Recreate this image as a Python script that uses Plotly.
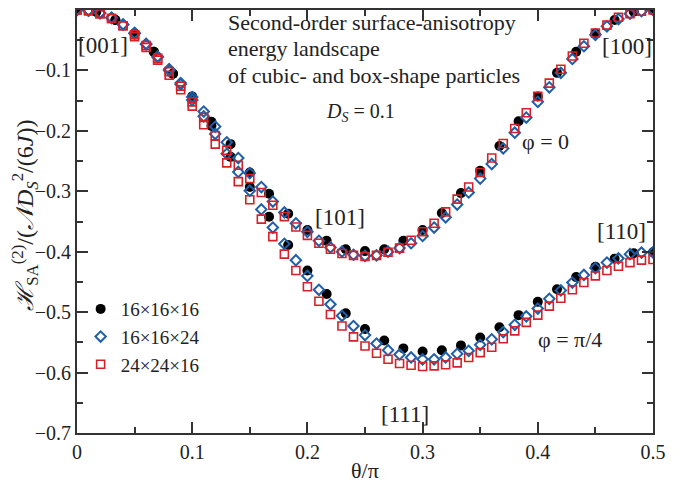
import plotly.graph_objects as go

# theta/pi grids
theta_fine = [0.00, 0.01, 0.02, 0.03, 0.04, 0.05, 0.06, 0.07, 0.08, 0.09,
              0.10, 0.11, 0.12, 0.13, 0.14, 0.15, 0.16, 0.17, 0.18, 0.19,
              0.20, 0.21, 0.22, 0.23, 0.24, 0.25, 0.26, 0.27, 0.28, 0.29,
              0.30, 0.31, 0.32, 0.33, 0.34, 0.35, 0.36, 0.37, 0.38, 0.39,
              0.40, 0.41, 0.42, 0.43, 0.44, 0.45, 0.46, 0.47, 0.48, 0.49, 0.50]
theta_coarse = [0.0, 0.0167, 0.0333, 0.05, 0.0667, 0.0833, 0.1, 0.1167, 0.1333, 0.15,
                0.1667, 0.1833, 0.2, 0.2167, 0.2333, 0.25, 0.2667, 0.2833, 0.3, 0.3167,
                0.3333, 0.35, 0.3667, 0.3833, 0.4, 0.4167, 0.4333, 0.45, 0.4667, 0.4833, 0.5]

# 16x16x16 (coarse grid)
e161616_phi0 = [0.0, -0.003, -0.0165, -0.039, -0.069, -0.105, -0.143, -0.185, -0.222, -0.269,
                -0.304, -0.337, -0.364, -0.382, -0.396, -0.399, -0.396, -0.382, -0.364, -0.336,
                -0.303, -0.266, -0.225, -0.184, -0.143, -0.104, -0.069, -0.039, -0.0165, -0.003, 0.0]
e161616_phi45 = [0.0, -0.003, -0.0165, -0.039, -0.069, -0.106, -0.146, -0.192, -0.243, -0.293,
                 -0.342, -0.389, -0.431, -0.470, -0.502, -0.528, -0.547, -0.560, -0.565, -0.563,
                 -0.555, -0.542, -0.525, -0.505, -0.483, -0.462, -0.442, -0.425, -0.4115, -0.4026, -0.401]

# 16x16x24 (fine grid)
e161624_phi0 = [0.0, -0.001, -0.005, -0.013, -0.024, -0.038, -0.056, -0.077, -0.098, -0.121,
                -0.144, -0.168, -0.193, -0.219, -0.245, -0.270, -0.293, -0.317, -0.335, -0.353,
                -0.367, -0.382, -0.393, -0.400, -0.405, -0.407, -0.406, -0.400, -0.394, -0.386,
                -0.374, -0.360, -0.343, -0.322, -0.302, -0.279, -0.255, -0.229, -0.203, -0.178,
                -0.152, -0.128, -0.104, -0.081, -0.060, -0.041, -0.027, -0.015, -0.006, -0.002, 0.0]
e161624_phi45 = [0.0, -0.001, -0.005, -0.013, -0.024, -0.039, -0.057, -0.078, -0.100, -0.123,
                 -0.149, -0.176, -0.205, -0.238, -0.268, -0.299, -0.330, -0.360, -0.387, -0.414,
                 -0.440, -0.463, -0.487, -0.506, -0.523, -0.538, -0.552, -0.563, -0.570, -0.575,
                 -0.578, -0.578, -0.575, -0.569, -0.564, -0.554, -0.545, -0.533, -0.521, -0.507,
                 -0.494, -0.478, -0.464, -0.451, -0.4385, -0.427, -0.418, -0.411, -0.404, -0.4015, -0.401]

# 24x24x16 (fine grid)
e242416_phi0 = [0.0, -0.001, -0.006, -0.014, -0.026, -0.041, -0.059, -0.080, -0.102, -0.126,
                -0.152, -0.178, -0.208, -0.232, -0.257, -0.279, -0.302, -0.323, -0.342, -0.359,
                -0.373, -0.386, -0.396, -0.403, -0.406, -0.408, -0.406, -0.401, -0.394, -0.381,
                -0.367, -0.353, -0.334, -0.313, -0.293, -0.269, -0.245, -0.221, -0.196, -0.170,
                -0.143, -0.121, -0.098, -0.076, -0.055, -0.038, -0.025, -0.012, -0.006, -0.002, 0.0]
e242416_phi45 = [0.0, -0.001, -0.006, -0.014, -0.026, -0.044, -0.062, -0.083, -0.108, -0.132,
                 -0.159, -0.190, -0.222, -0.253, -0.284, -0.314, -0.346, -0.375, -0.404, -0.431,
                 -0.458, -0.482, -0.504, -0.523, -0.541, -0.556, -0.568, -0.578, -0.585, -0.588,
                 -0.590, -0.589, -0.587, -0.584, -0.575, -0.567, -0.558, -0.544, -0.531, -0.517,
                 -0.505, -0.490, -0.477, -0.463, -0.451, -0.440, -0.431, -0.424, -0.418, -0.414, -0.413]

series_names = ["16×16×16", "16×16×24", "24×24×16"]
title_lines = ["Second-order surface-anisotropy", "energy landscape", "of cubic- and box-shape particles"]
FONT = "Liberation Serif, Times New Roman, serif"
TXT = "#222"
BLUE = "#1f5ea8"
RED = "#d62028"

fig = go.Figure()
fig.add_trace(go.Scatter(
    x=theta_coarse + [None] + theta_coarse,
    y=e161616_phi0 + [None] + e161616_phi45,
    mode="markers", name=series_names[0],
    marker=dict(symbol="circle", size=10, color="black"),
))
fig.add_trace(go.Scatter(
    x=theta_fine + [None] + theta_fine,
    y=e161624_phi0 + [None] + e161624_phi45,
    mode="markers", name=series_names[1],
    marker=dict(symbol="diamond-open", size=8, color=BLUE, line=dict(width=2, color=BLUE)),
))
fig.add_trace(go.Scatter(
    x=theta_fine + [None] + theta_fine,
    y=e242416_phi0 + [None] + e242416_phi45,
    mode="markers", name=series_names[2],
    marker=dict(symbol="square-open", size=8, color=RED, line=dict(width=1.6, color=RED)),
))

annots = [
    (0.0226, -0.058, "[001]", 23),
    (0.477, -0.061, "[100]", 23),
    (0.228, -0.343, "[101]", 23),
    (0.285, -0.669, "[111]", 23),
    (0.473, -0.367, "[110]", 23),
    (0.407, -0.218, "φ = 0", 22),
    (0.428, -0.546, "φ = π/4", 22),
    (0.2465, -0.170, "<i>D<sub>S</sub></i> = 0.1", 20),
]
for x, y, t, s in annots:
    fig.add_annotation(x=x, y=y, text=t, showarrow=False, xref="x", yref="y",
                       font=dict(family=FONT, size=s, color=TXT))

for line, yv in zip(title_lines, [-0.0215, -0.0645, -0.1076]):
    fig.add_annotation(x=0.1293, y=yv, xref="x", yref="y", xanchor="left", yanchor="middle",
                       showarrow=False, text=line,
                       font=dict(family=FONT, size=22, color=TXT))

# axis titles as annotations
fig.add_annotation(x=-0.0903, y=0.516, xref="paper", yref="paper", textangle=-90,
                   showarrow=False, xanchor="center", yanchor="middle",
                   text="<i>ℋ</i><sub>SA</sub><sup>(2)</sup>/(<i>𝒩D<sub>S</sub></i><sup>2</sup>/(6<i>J</i>))",
                   font=dict(family=FONT, size=24, color=TXT))
fig.add_annotation(x=0.5, y=-0.0875, xref="paper", yref="paper",
                   showarrow=False, xanchor="center", yanchor="middle",
                   text="θ/π", font=dict(family=FONT, size=22, color=TXT))

axis_common = dict(
    showgrid=False, zeroline=False, showline=True, linecolor="#333", linewidth=2,
    mirror="allticks", ticks="inside", ticklen=11, tickwidth=1.5, tickcolor="#333",
    tickfont=dict(family=FONT, size=20, color=TXT), automargin=False,
)
fig.update_xaxes(range=[0, 0.5], dtick=0.1, tick0=0,
                 minor=dict(dtick=0.05, ticks="inside", ticklen=6, tickwidth=1.5, tickcolor="#333"),
                 **axis_common)
fig.update_yaxes(range=[-0.7, 0], dtick=0.1, tick0=0,
                 minor=dict(dtick=0.05, ticks="inside", ticklen=6, tickwidth=1.5, tickcolor="#333"),
                 **axis_common)

fig.update_layout(
    width=689, height=491,
    margin=dict(l=77, r=36, t=10, b=58),
    paper_bgcolor="white", plot_bgcolor="white",
    showlegend=True,
    legend=dict(x=0.0063, y=0.338, xanchor="left", yanchor="top",
                bgcolor="rgba(0,0,0,0)", font=dict(family=FONT, size=19, color=TXT),
                itemwidth=30),
)

fig.write_html("out.html")
